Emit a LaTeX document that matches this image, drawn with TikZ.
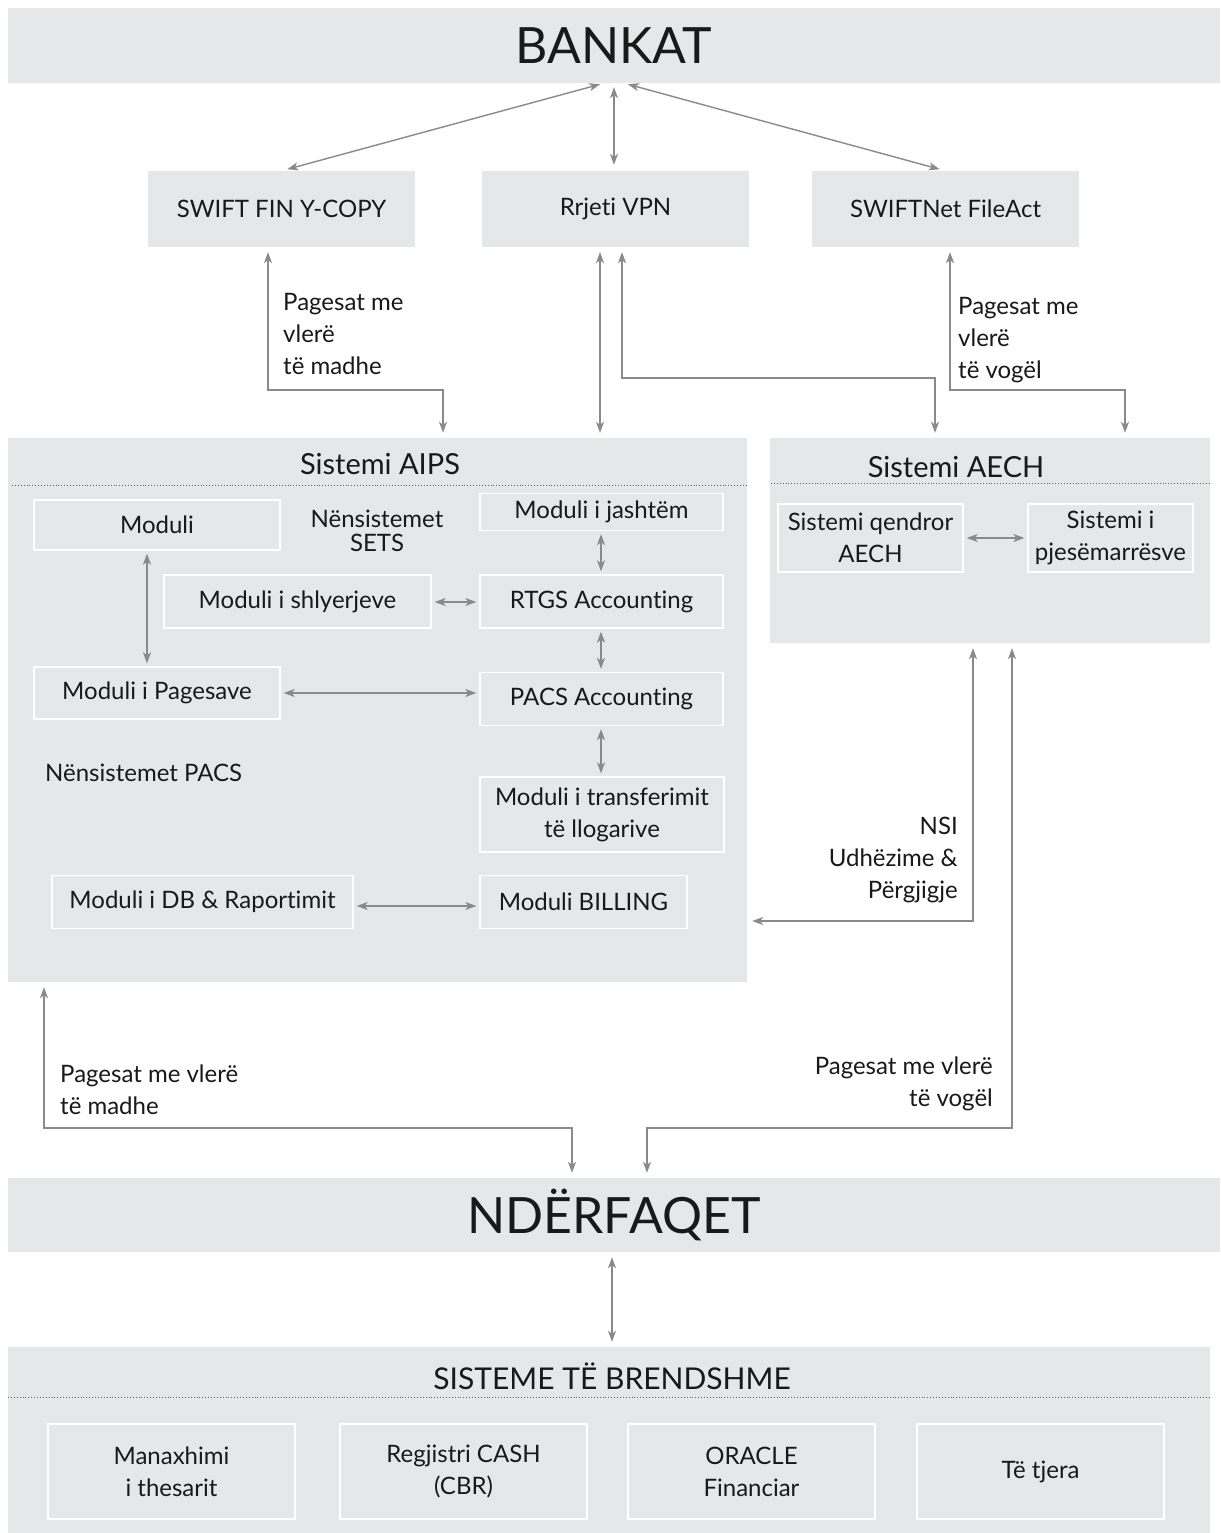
\documentclass[tikz,border=0pt]{standalone}
\usepackage{fontspec}
\setmainfont{Lato}[RawFeature={-liga;-clig;-dlig}]
\usetikzlibrary{arrows.meta,calc}
\definecolor{bg}{RGB}{230,231,232}
\definecolor{ac}{RGB}{138,138,140}
\definecolor{tx}{RGB}{25,25,25}
\newcommand{\fs}[2]{\fontsize{#1}{#2}\selectfont}
\tikzset{
  bar/.style={fill=bg, draw=none, inner sep=0pt, text=tx},
  ibox/.style={fill=bg, draw=white, line width=1.3pt, align=center, inner sep=0pt, text=tx, font=\fs{24}{32}},
  lbl/.style={text=tx, font=\fs{24}{32}, inner sep=0pt},
  dbl/.style={draw=ac, line width=1.4pt, {Stealth[length=11pt,width=8pt,inset=3pt]}-{Stealth[length=11pt,width=8pt,inset=3pt]}, shorten <=5pt, shorten >=5pt},
  sep/.style={draw=tx!70, line width=0.9pt, dotted},
}
\begin{document}
\begin{tikzpicture}[x=1pt,y=-1pt]
\useasboundingbox[fill=white] (0,0) rectangle (1220,1533);
% top bar
\node[bar, minimum width=1212pt, minimum height=75pt, font=\fs{50}{56}] (bankat) at (614,45.5) {BANKAT};
% top boxes
\node[ibox, draw=none, minimum width=267pt, minimum height=75pt] (swift) at (281.5,209) {SWIFT FIN Y-COPY};
\node[ibox, draw=none, minimum width=267pt, minimum height=75pt] (vpn) at (615.5,209) {Rrjeti VPN};
\node[ibox, draw=none, minimum width=267pt, minimum height=75pt] (fileact) at (945.5,209) {SWIFTNet FileAct};
% big containers
\node[bar, minimum width=739pt, minimum height=544pt] (aips) at (377.5,710) {};
\node[bar, minimum width=440pt, minimum height=205pt] (aech) at (990,540.5) {};
\node[bar, minimum width=1212pt, minimum height=74pt, font=\fs{50}{56}] (nderf) at (614,1215) {NDËRFAQET};
\node[bar, minimum width=1202pt, minimum height=186pt] (sist) at (609,1440) {};
% titles and separators
\node[lbl, font=\fs{29}{34}] (aipsT) at (380,464) {Sistemi AIPS};
\draw[sep] (12,485) -- (747,485);
\node[lbl, font=\fs{29}{34}] (aechT) at (956,467) {Sistemi AECH};
\draw[sep] (771,483) -- (1210,483);
\node[lbl, font=\fs{30}{34}] (sistT) at (612,1376) {SISTEME TË BRENDSHME};
\draw[sep] (8,1397) -- (1210,1397);
% AIPS inner
\node[ibox, minimum width=246pt, minimum height=50pt] (moduli) at (157,525) {Moduli};
\node[lbl, align=center, font=\fs{24}{24}] (sets) at (377,531) {Nënsistemet\\SETS};
\node[ibox, minimum width=243pt, minimum height=37pt] (jasht) at (601.5,512) {Moduli i jashtëm};
\node[ibox, minimum width=267pt, minimum height=53pt] (shlyer) at (297.5,601.5) {Moduli i shlyerjeve};
\node[ibox, minimum width=243pt, minimum height=53pt] (rtgs) at (601.5,601.5) {RTGS Accounting};
\node[ibox, minimum width=246pt, minimum height=52pt] (pages) at (157,693) {Moduli i Pagesave};
\node[ibox, minimum width=243pt, minimum height=53pt] (pacs) at (601.5,699) {PACS Accounting};
\node[lbl, anchor=west] (pacsT) at (45,773) {Nënsistemet PACS};
\node[ibox, minimum width=244pt, minimum height=75pt] (transf) at (602,814.5) {Moduli i transferimit\\të llogarive};
\node[ibox, minimum width=301pt, minimum height=53pt] (db) at (202.5,902) {Moduli i DB \& Raportimit};
\node[ibox, minimum width=207pt, minimum height=53pt] (bill) at (583.5,902) {Moduli BILLING};
% AECH inner
\node[ibox, minimum width=185pt, minimum height=68pt] (qend) at (870.5,538) {Sistemi qendror\\AECH};
\node[ibox, minimum width=165pt, minimum height=68pt] (pjes) at (1110.5,538) {Sistemi i\\pjesëmarrësve};
% bottom inner
\node[ibox, minimum width=247pt, minimum height=95pt] (man) at (171.5,1471.5) {Manaxhimi\\i thesarit};
\node[ibox, minimum width=247pt, minimum height=95pt] (cash) at (463.5,1471.5) {Regjistri CASH\\(CBR)};
\node[ibox, minimum width=247pt, minimum height=95pt] (orac) at (751.5,1471.5) {ORACLE\\Financiar};
\node[ibox, minimum width=247pt, minimum height=95pt] (tj) at (1040.5,1471.5) {Të tjera};
% guides
\coordinate (x268) at (268,0); \coordinate (x443) at (443,0);
\coordinate (x600) at (600,0); \coordinate (x622) at (622,0); \coordinate (x935) at (935,0);
\coordinate (x950) at (950,0); \coordinate (x1125) at (1125,0);
\coordinate (x973) at (973,0); \coordinate (x1012) at (1012,0);
\coordinate (x44) at (44,0); \coordinate (x572) at (572,0); \coordinate (x647) at (647,0);
\coordinate (x147) at (147,0); \coordinate (x601) at (601,0); \coordinate (x612) at (612,0);
\coordinate (y602) at (0,602); \coordinate (y693) at (0,693); \coordinate (y906) at (0,906);
\coordinate (y538) at (0,538); \coordinate (y921) at (0,921);
\coordinate (bL) at ($(bankat.south)+(-10,0)$);
\coordinate (bR) at ($(bankat.south)+(10,0)$);
% top connectors
\draw[dbl, shorten <=4pt, shorten >=6pt] (bL) -- (swift.north);
\draw[dbl, shorten <=4pt, shorten >=6pt] (bankat.south) -- (vpn.north -| bankat.south);
\draw[dbl, shorten <=4pt, shorten >=6pt] (bR) -- (fileact.north);
% middle connectors
\draw[dbl] (swift.south -| x268) -- (268,390) -- (443,390) -- (aips.north -| x443);
\node[lbl, anchor=west, align=left] (lblA) at (283,334) {Pagesat me\\vlerë\\të madhe};
\draw[dbl] (vpn.south -| x600) -- (aips.north -| x600);
\draw[dbl] (vpn.south -| x622) -- (622,378) -- (935,378) -- (aech.north -| x935);
\draw[dbl] (fileact.south -| x950) -- (950,390) -- (1125,390) -- (aech.north -| x1125);
\node[lbl, anchor=west, align=left] (lblB) at (958,340) {Pagesat me\\vlerë\\të vogël};
% inside AIPS
\draw[dbl, shorten <=3pt, shorten >=3pt] (moduli.south -| x147) -- (pages.north -| x147);
\draw[dbl, shorten <=3pt, shorten >=3pt] (shlyer.east |- y602) -- (rtgs.west |- y602);
\draw[dbl, shorten <=3pt, shorten >=3pt] (jasht.south -| x601) -- (rtgs.north -| x601);
\draw[dbl, shorten <=3pt, shorten >=3pt] (rtgs.south -| x601) -- (pacs.north -| x601);
\draw[dbl, shorten <=3pt, shorten >=3pt] (pages.east |- y693) -- (pacs.west |- y693);
\draw[dbl, shorten <=3pt, shorten >=3pt] (pacs.south -| x601) -- (transf.north -| x601);
\draw[dbl, shorten <=3pt, shorten >=3pt] (db.east |- y906) -- (bill.west |- y906);
% inside AECH
\draw[dbl, shorten <=3pt, shorten >=3pt] (qend.east |- y538) -- (pjes.west |- y538);
% AECH down connectors
\draw[dbl] (aech.south -| x973) -- (973,921) -- (aips.east |- y921);
\node[lbl, anchor=east, align=right] (lblC) at (958,860) {NSI\\Udhëzime \&\\Përgjigje};
\draw[dbl] (aech.south -| x1012) -- (1012,1128) -- (647,1128) -- (nderf.north -| x647);
\node[lbl, anchor=east, align=right] (lblD) at (993,1084) {Pagesat me vlerë\\të vogël};
\draw[dbl] (aips.south -| x44) -- (44,1128) -- (572,1128) -- (nderf.north -| x572);
\node[lbl, anchor=west, align=left] (lblE) at (60,1090) {Pagesat me vlerë\\të madhe};
% bottom
\draw[dbl] (nderf.south -| x612) -- (sist.north -| x612);
\end{tikzpicture}
\end{document}
